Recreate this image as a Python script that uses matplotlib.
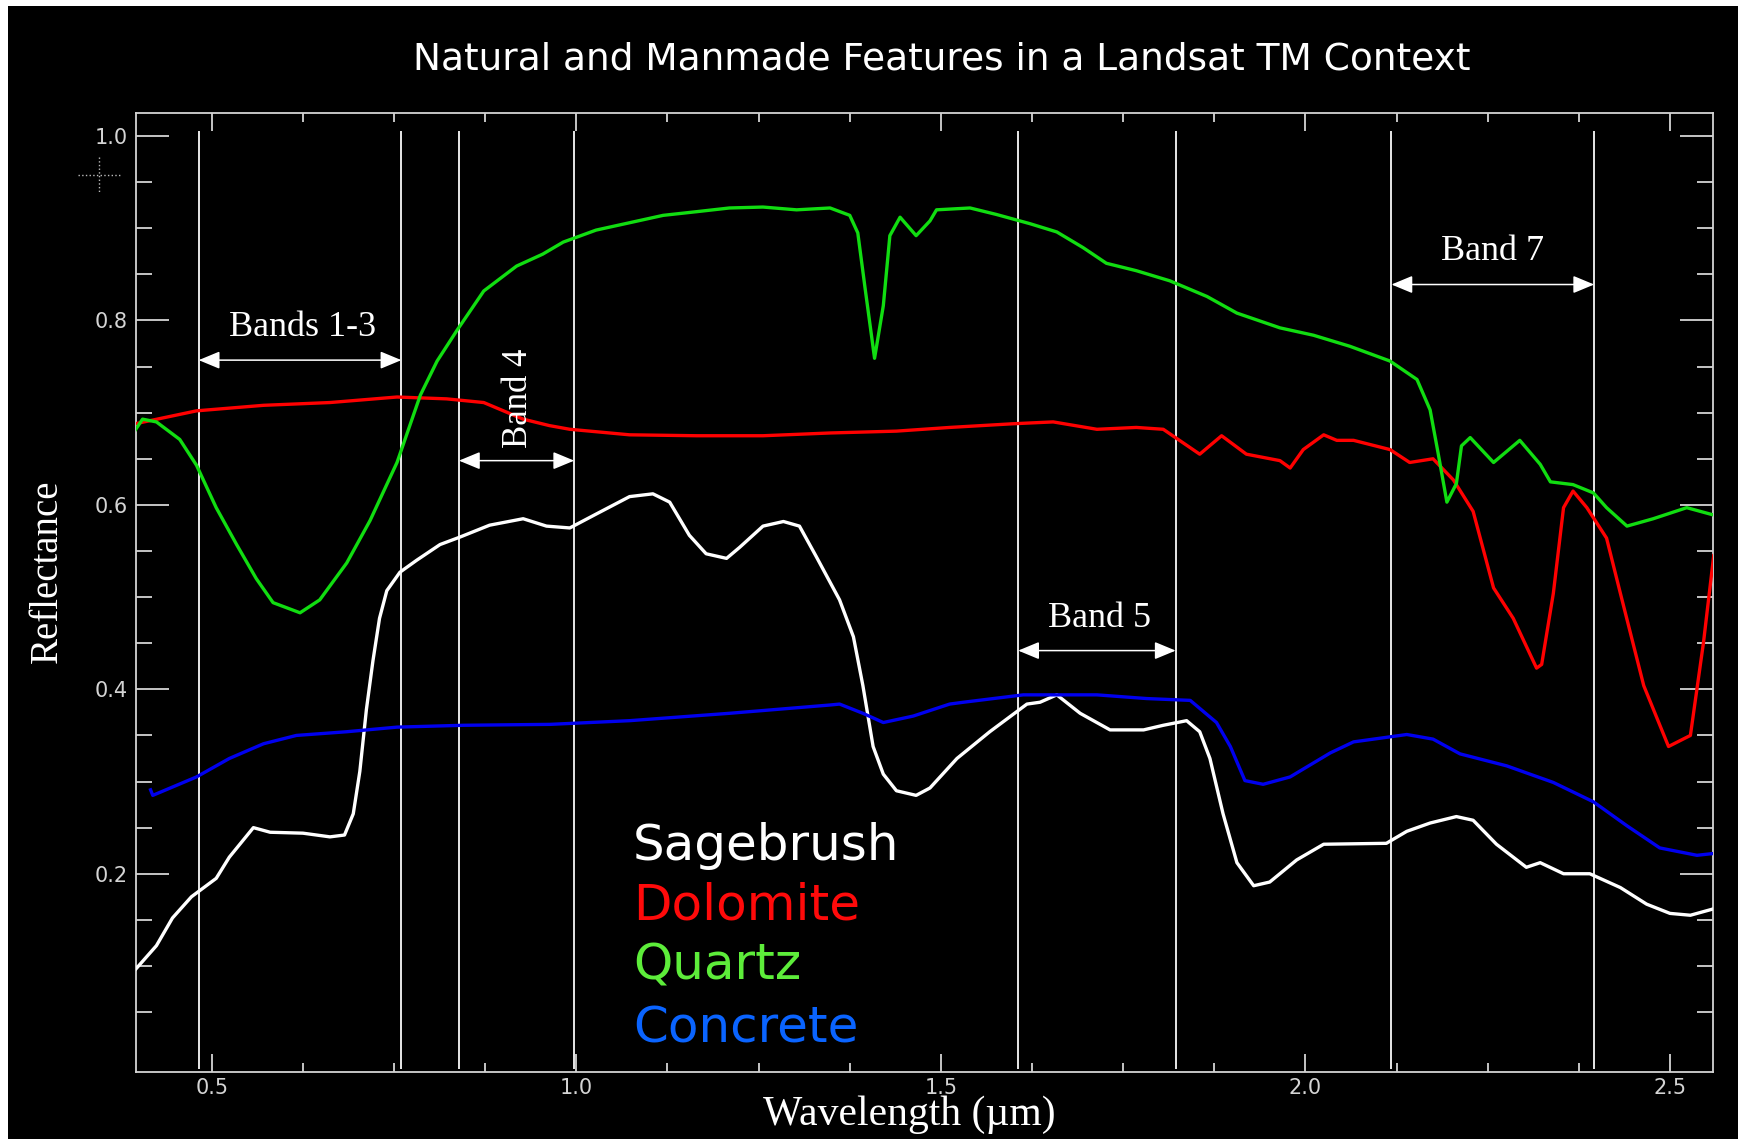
import numpy as np
import matplotlib
matplotlib.use("Agg")
import matplotlib.pyplot as plt
from matplotlib.patches import Rectangle
from matplotlib.lines import Line2D

# spectra (wavelength in um, reflectance)
sage_wl = [0.395, 0.424, 0.446, 0.472, 0.506, 0.524, 0.557, 0.580, 0.625, 0.662, 0.682, 0.694, 0.703,
           0.712, 0.721, 0.730, 0.740, 0.758, 0.781, 0.813, 0.840, 0.881, 0.927, 0.959, 0.991, 1.027,
           1.073, 1.105, 1.128, 1.155, 1.178, 1.206, 1.224, 1.256, 1.284, 1.306, 1.329, 1.361, 1.380,
           1.393, 1.407, 1.421, 1.439, 1.466, 1.485, 1.522, 1.567, 1.618, 1.636, 1.659, 1.691, 1.732,
           1.778, 1.805, 1.837, 1.855, 1.869, 1.887, 1.906, 1.929, 1.951, 1.988, 2.025, 2.111, 2.139,
           2.171, 2.207, 2.230, 2.262, 2.303, 2.322, 2.354, 2.390, 2.432, 2.468, 2.500, 2.528, 2.560]
sage_r = [0.096, 0.122, 0.152, 0.175, 0.195, 0.218, 0.250, 0.245, 0.244, 0.240, 0.242, 0.265, 0.311,
          0.378, 0.431, 0.477, 0.507, 0.527, 0.540, 0.557, 0.565, 0.578, 0.585, 0.577, 0.575, 0.590,
          0.609, 0.612, 0.603, 0.567, 0.547, 0.542, 0.554, 0.577, 0.582, 0.577, 0.544, 0.497, 0.457,
          0.404, 0.338, 0.308, 0.290, 0.285, 0.293, 0.325, 0.354, 0.384, 0.386, 0.394, 0.374, 0.356,
          0.356, 0.361, 0.366, 0.354, 0.325, 0.265, 0.212, 0.187, 0.191, 0.215, 0.232, 0.233, 0.246,
          0.255, 0.262, 0.258, 0.232, 0.207, 0.212, 0.200, 0.200, 0.185, 0.167, 0.157, 0.155, 0.162]

dolo_wl = [0.395, 0.479, 0.571, 0.662, 0.754, 0.822, 0.873, 0.927, 0.963, 0.991, 1.073, 1.165, 1.256,
           1.348, 1.439, 1.512, 1.599, 1.654, 1.714, 1.768, 1.805, 1.855, 1.885, 1.919, 1.965, 1.979,
           1.997, 2.025, 2.043, 2.066, 2.116, 2.143, 2.175, 2.203, 2.230, 2.258, 2.285, 2.317, 2.324,
           2.340, 2.354, 2.367, 2.386, 2.413, 2.432, 2.464, 2.498, 2.528, 2.546, 2.560]
dolo_r = [0.688, 0.702, 0.708, 0.711, 0.717, 0.715, 0.711, 0.693, 0.686, 0.682, 0.676, 0.675, 0.675,
          0.678, 0.680, 0.684, 0.688, 0.690, 0.682, 0.684, 0.682, 0.655, 0.675, 0.655, 0.648, 0.640,
          0.660, 0.676, 0.670, 0.670, 0.660, 0.646, 0.650, 0.627, 0.593, 0.510, 0.477, 0.423, 0.427,
          0.504, 0.597, 0.615, 0.597, 0.564, 0.504, 0.404, 0.338, 0.350, 0.451, 0.545]

quartz_wl = [0.394, 0.405, 0.424, 0.456, 0.479, 0.506, 0.534, 0.561, 0.584, 0.621, 0.648, 0.685, 0.717,
             0.754, 0.786, 0.809, 0.836, 0.873, 0.918, 0.954, 0.982, 1.027, 1.073, 1.119, 1.165, 1.210,
             1.256, 1.302, 1.348, 1.375, 1.386, 1.396, 1.409, 1.421, 1.430, 1.444, 1.466, 1.485, 1.494,
             1.540, 1.576, 1.622, 1.659, 1.695, 1.727, 1.768, 1.814, 1.865, 1.906, 1.965, 2.011, 2.061,
             2.116, 2.153, 2.171, 2.182, 2.194, 2.207, 2.214, 2.226, 2.258, 2.294, 2.322, 2.336, 2.367,
             2.395, 2.413, 2.441, 2.477, 2.523, 2.560]
quartz_r = [0.680, 0.693, 0.690, 0.671, 0.643, 0.597, 0.557, 0.520, 0.494, 0.483, 0.497, 0.537, 0.583,
            0.646, 0.719, 0.756, 0.789, 0.832, 0.859, 0.872, 0.885, 0.898, 0.906, 0.914, 0.918, 0.922,
            0.923, 0.920, 0.922, 0.914, 0.895, 0.835, 0.759, 0.816, 0.892, 0.912, 0.892, 0.908, 0.920,
            0.922, 0.915, 0.905, 0.896, 0.879, 0.862, 0.854, 0.843, 0.826, 0.808, 0.792, 0.784, 0.772,
            0.756, 0.736, 0.703, 0.656, 0.603, 0.623, 0.664, 0.673, 0.646, 0.670, 0.644, 0.625, 0.622,
            0.613, 0.597, 0.577, 0.585, 0.597, 0.589]

conc_wl = [0.416, 0.419, 0.479, 0.524, 0.571, 0.616, 0.685, 0.754, 0.845, 0.964, 1.073, 1.210, 1.348,
           1.361, 1.393, 1.421, 1.462, 1.512, 1.531, 1.613, 1.714, 1.782, 1.842, 1.878, 1.897, 1.917,
           1.942, 1.979, 2.034, 2.066, 2.139, 2.175, 2.212, 2.276, 2.340, 2.395, 2.441, 2.486, 2.537, 2.560]
conc_r = [0.291, 0.285, 0.305, 0.325, 0.341, 0.350, 0.354, 0.359, 0.361, 0.362, 0.366, 0.374, 0.383,
          0.384, 0.374, 0.364, 0.371, 0.384, 0.386, 0.394, 0.394, 0.390, 0.388, 0.364, 0.338, 0.301,
          0.297, 0.305, 0.331, 0.343, 0.351, 0.346, 0.330, 0.317, 0.299, 0.278, 0.252, 0.228, 0.220, 0.222]

# TM band edges (vertical lines) and the band annotations
band_edges = [0.482, 0.760, 0.839, 0.997, 1.606, 1.822, 2.118, 2.396]
band_names = ["Bands 1-3", "Band 4", "Band 5", "Band 7"]
band_spans = [(0.482, 0.760), (0.839, 0.997), (1.606, 1.822), (2.118, 2.396)]
arrow_y = [0.757, 0.648, 0.442, 0.839]
label_xy = [(0.625, 0.792), (0.920, 0.716), (1.717, 0.477), (2.256, 0.875)]
label_rot = [0, 90, 0, 0]

names = ["Sagebrush", "Dolomite", "Quartz", "Concrete"]
line_colors = ["white", "#ff0000", "#11dd11", "#0000ee"]
text_colors = ["white", "#ff0a0a", "#5ded3a", "#0a64ff"]

W, H = 1738, 1139
grey = "#d4d4d4"
serif = "Liberation Serif"

fig = plt.figure(figsize=(W / 100, H / 100), dpi=100, facecolor="white")
# black canvas with the thin white strip on top and left
fig.add_artist(Rectangle((8 / W, 0), 1, 1 - 6 / H, transform=fig.transFigure,
                         facecolor="black", edgecolor="none", zorder=-5))

ax = fig.add_axes([136 / W, 1 - 1072 / H, (1713 - 136) / W, (1072 - 113) / H])
ax.set_facecolor("black")

for wl, r, c in zip([sage_wl, dolo_wl, quartz_wl, conc_wl], [sage_r, dolo_r, quartz_r, conc_r], line_colors):
    ax.plot(wl, r, color=c, lw=2.4, solid_joinstyle="round", zorder=3)

ax.vlines(band_edges, -0.012, 1.005, colors="#e8e8e8", lw=1.4, zorder=2)

for (x0, x1), y, name, (tx, ty), rot in zip(band_spans, arrow_y, band_names, label_xy, label_rot):
    ax.annotate("", xy=(x1, y), xytext=(x0, y),
                arrowprops=dict(arrowstyle="<|-|>,head_length=0.65,head_width=0.27",
                                mutation_scale=20, color="white", lw=1.1,
                                shrinkA=0, shrinkB=0), zorder=4)
    ax.text(tx, ty, name, color="white", family=serif, fontsize=26 if rot == 0 else 25,
            rotation=rot, ha="center", va="center", zorder=4)

# colored legend text
leg_y = [0.221, 0.1585, 0.096, 0.031]
for name, c, y in zip(names, text_colors, leg_y):
    ax.text(0.315, y, name, color=c, fontsize=36, family="DejaVu Sans",
            transform=ax.transAxes, va="baseline", ha="left", zorder=5)

ax.set_xlim(0.396, 2.559)
ax.set_ylim(-0.015, 1.025)

ax.set_xticks([0.5, 1.0, 1.5, 2.0, 2.5])
ax.set_xticks(np.arange(0.625, 2.5, 0.125), minor=True)
ax.set_yticks([0.2, 0.4, 0.6, 0.8, 1.0])
ax.set_yticks(np.arange(0.05, 1.0, 0.05), minor=True)
ax.set_xticklabels(["0.5", "1.0", "1.5", "2.0", "2.5"])
ax.set_yticklabels(["0.2", "0.4", "0.6", "0.8", "1.0"])

ax.tick_params(axis="both", which="both", direction="in", top=True, right=True,
               color=grey, width=1.3, labelcolor=grey, labelsize=15)
ax.tick_params(axis="x", which="major", length=13, pad=4)
ax.tick_params(axis="x", which="minor", length=6.5)
ax.tick_params(axis="y", which="major", length=24, pad=6)
ax.tick_params(axis="y", which="minor", length=11.5)
for s in ax.spines.values():
    s.set_color(grey)
    s.set_linewidth(1.3)

fig.text(942 / W, 1 - 60 / H, "Natural and Manmade Features in a Landsat TM Context",
         color="white", fontsize=27, family="DejaVu Sans", ha="center", va="center")
fig.text(47 / W, 1 - 571 / H, "Reflectance", color="white", fontsize=28, family=serif,
         rotation=90, ha="center", va="center")
fig.text(909 / W, 1 - 1115 / H, "Wavelength (\u00b5m)", color="white", fontsize=30, family=serif,
         ha="center", va="center")

# little dotted cursor cross left over in the top-left corner
fig.add_artist(Line2D([78 / W, 122 / W], [1 - 175 / H] * 2, ls=":", color="#bbbbbb", lw=1))
fig.add_artist(Line2D([99 / W] * 2, [1 - 157 / H, 1 - 193 / H], ls=":", color="#bbbbbb", lw=1))

plt.savefig("out.png", dpi=100, facecolor=fig.get_facecolor())
